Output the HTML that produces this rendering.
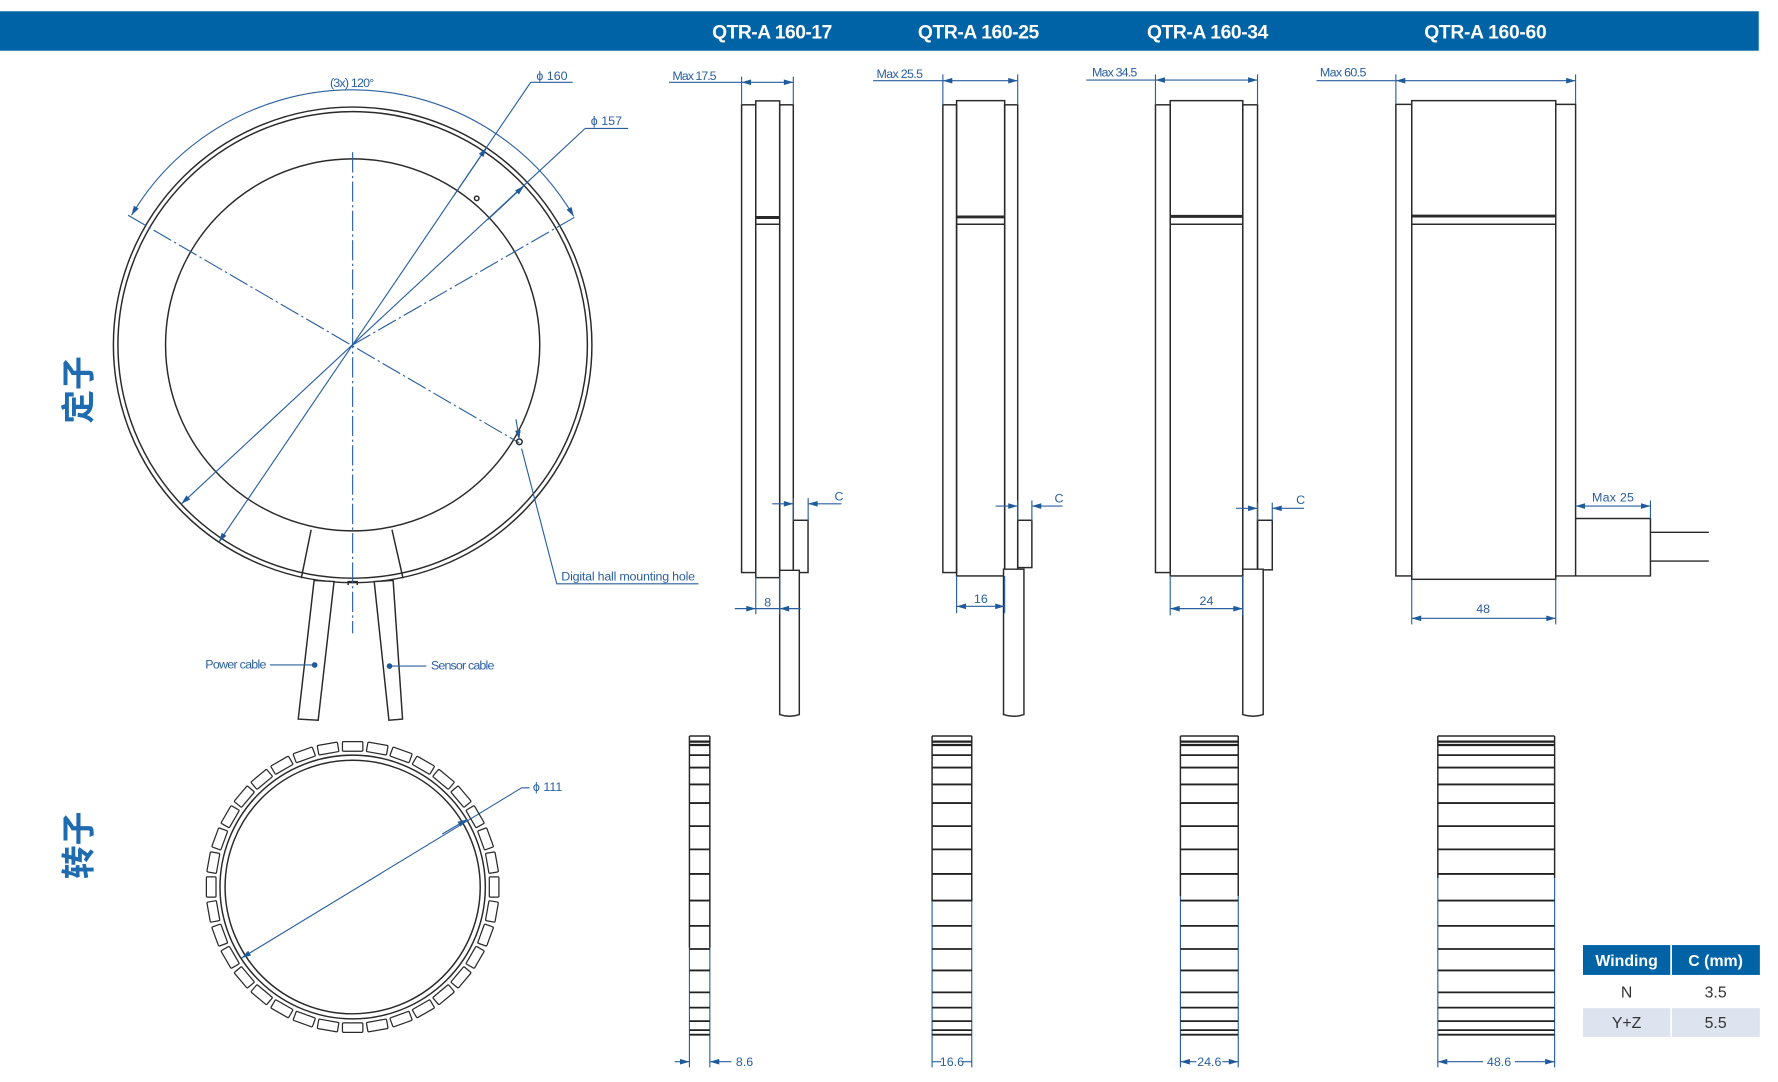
<!DOCTYPE html>
<html><head><meta charset="utf-8"><style>
html,body{margin:0;padding:0;background:#fff;}
svg{display:block;}
.k{fill:none;stroke:#2a2a2a;stroke-width:1.3}
.b{fill:none;stroke:#2a5f9f;stroke-width:1}
.d{fill:none;stroke:#2a5f9f;stroke-width:1;stroke-dasharray:18 3 2 3}
.t{font-family:"Liberation Sans",sans-serif;font-size:11px;fill:#2a5f9f}
.h{font-family:"Liberation Sans",sans-serif;font-weight:bold;font-size:17px;fill:#fff}
</style></head><body>
<svg width="1778" height="1082" viewBox="0 0 1568 960" preserveAspectRatio="none" xmlns="http://www.w3.org/2000/svg">
<defs>
<marker id="a" viewBox="0 0 10 6" refX="10" refY="3" markerWidth="9" markerHeight="5" orient="auto-start-reverse" markerUnits="userSpaceOnUse"><path d="M0,0L10,3L0,6z" fill="#1f5a9a"/></marker>
</defs>
<rect x="0" y="10" width="1551" height="35" fill="#0063a6"/>
<text class="h" x="681" y="34" text-anchor="middle" textLength="106">QTR-A 160-17</text>
<text class="h" x="863" y="34" text-anchor="middle" textLength="107">QTR-A 160-25</text>
<text class="h" x="1065" y="34" text-anchor="middle" textLength="107">QTR-A 160-34</text>
<text class="h" x="1310" y="34" text-anchor="middle" textLength="108">QTR-A 160-60</text>

<text x="0" y="0" transform="translate(80,376) rotate(-90)" style="font-family:'Liberation Sans','Noto Sans CJK SC',sans-serif;font-size:30px;fill:#1f6bb0;font-weight:bold">定子</text>
<text x="0" y="0" transform="translate(80,780) rotate(-90)" style="font-family:'Liberation Sans','Noto Sans CJK SC',sans-serif;font-size:30px;fill:#1f6bb0;font-weight:bold">转子</text>

<circle class="k" cx="311" cy="306" r="211"/>
<circle class="k" cx="311" cy="306" r="207"/>
<circle class="k" cx="311" cy="306" r="165"/>
<path class="k" d="M274.4,470 L265.7,513 M345.7,470 L355.4,513"/>
<path fill="#fff" stroke="#2a2a2a" stroke-width="1.3" d="M277,515 L294.6,516 L280.6,639 L263,638 Z M330,516 L346.7,515 L355,638 L343,639 Z"/>
<path class="k" d="M307,519 v-3 h8 v3"/>
<line class="d" x1="311" y1="135" x2="311" y2="562"/>
<line class="d" x1="113" y1="191" x2="458" y2="393"/>
<line class="d" x1="311" y1="306" x2="508" y2="192"/>
<path class="b" d="M116,191 A226,226 0 0 1 506,192" marker-start="url(#a)" marker-end="url(#a)"/>
<text class="t" x="291" y="77" textLength="39">(3x) 120°</text>
<line class="b" x1="193" y1="481" x2="468" y2="73" marker-start="url(#a)"/>
<line class="b" x1="400" y1="174" x2="429" y2="131" marker-end="url(#a)"/>
<line class="b" x1="468" y1="73" x2="505" y2="73"/>
<text class="t" x="473" y="71">ϕ 160</text>
<line class="b" x1="160" y1="447" x2="516" y2="114" marker-start="url(#a)"/>
<line class="b" x1="430" y1="195" x2="462" y2="165" marker-end="url(#a)"/>
<line class="b" x1="516" y1="114" x2="554" y2="114"/>
<text class="t" x="521" y="111">ϕ 157</text>
<circle class="k" cx="420.4" cy="176" r="2" stroke-width="1"/>
<circle class="k" cx="458" cy="392" r="2.5" stroke-width="1"/>
<line class="b" x1="455" y1="372" x2="458" y2="390" marker-end="url(#a)"/>
<polyline class="b" points="460,398 491,518 616,518"/>
<text class="t" x="495" y="515" textLength="118">Digital hall mounting hole</text>
<line class="b" x1="238" y1="590" x2="277" y2="590"/>
<circle cx="277.5" cy="590" r="2.5" fill="#1f5a9a"/>
<text class="t" x="181" y="593" textLength="54">Power cable</text>
<line class="b" x1="343" y1="591" x2="376" y2="591"/>
<circle cx="343.5" cy="591" r="2.5" fill="#1f5a9a"/>
<text class="t" x="380" y="594" textLength="56">Sensor cable</text>

<g class="k">
<rect x="654" y="93" width="12.5" height="415"/>
<rect x="666.5" y="89.5" width="21.1" height="423"/>
<rect x="687.6" y="93" width="12" height="415"/>
<rect x="699.6" y="461.6" width="13" height="46.4"/>
<path d="M687.6,506 h17.3 v128 q-8.6,3 -17.3,0 z" fill="#fff"/>
<line x1="666.5" y1="193" x2="687.6" y2="193" stroke-width="2.6"/>
<line x1="666.5" y1="199" x2="687.6" y2="199"/>
<rect x="831.5" y="93" width="12.1" height="415"/>
<rect x="843.6" y="89.3" width="42.4" height="421.7"/>
<rect x="886" y="93" width="11.5" height="415"/>
<rect x="897.5" y="461.6" width="12.5" height="42"/>
<path d="M885,505 h18 v129 q-9,3 -18,0 z" fill="#fff"/>
<line x1="843.6" y1="192.5" x2="886" y2="192.5" stroke-width="2.6"/>
<line x1="843.6" y1="199" x2="886" y2="199"/>
<rect x="1019" y="93" width="13" height="415"/>
<rect x="1032" y="89.3" width="64" height="421.7"/>
<rect x="1096" y="93" width="13" height="415"/>
<rect x="1109" y="461.6" width="13" height="44"/>
<path d="M1096,505 h18 v129 q-9,3 -18,0 z" fill="#fff"/>
<line x1="1032" y1="192" x2="1096" y2="192" stroke-width="2.6"/>
<line x1="1032" y1="199" x2="1096" y2="199"/>
<rect x="1231" y="92.6" width="14" height="418.4"/>
<rect x="1245" y="89.3" width="127" height="424.7"/>
<path d="M1372,92.6 h17.5 v418.4 h-17.5 M1389.5,511 h66 v-51 h-66"/>
<path d="M1455.5,472.3 h51.5 M1455.5,497.8 h51.5"/>
<line x1="1245" y1="191.7" x2="1372" y2="191.7" stroke-width="2.6"/>
<line x1="1245" y1="199" x2="1372" y2="199"/>
</g>
<g class="b">
<line x1="590" y1="73" x2="654" y2="73"/><line x1="654" y1="73" x2="699.6" y2="73" marker-start="url(#a)" marker-end="url(#a)"/>
<path d="M654,68 V93 M699.6,68 V93"/>
<line x1="681" y1="447" x2="699.6" y2="447" marker-end="url(#a)"/><line x1="742" y1="447" x2="712.7" y2="447" marker-end="url(#a)"/>
<path d="M699.6,442 V462 M712.7,442 V462"/>
<line x1="648" y1="540" x2="666.5" y2="540" marker-end="url(#a)"/><line x1="706" y1="540" x2="687.6" y2="540" marker-end="url(#a)"/><line x1="666.5" y1="540" x2="687.6" y2="540"/>
<path d="M666.5,512 V545 M687.6,512 V545"/>
<line x1="770" y1="71.6" x2="831.5" y2="71.6"/><line x1="831.5" y1="71.6" x2="897.5" y2="71.6" marker-start="url(#a)" marker-end="url(#a)"/>
<path d="M831.5,66 V93 M897.5,66 V93"/>
<line x1="878" y1="449" x2="897.5" y2="449" marker-end="url(#a)"/><line x1="937" y1="449" x2="910" y2="449" marker-end="url(#a)"/>
<path d="M897.5,444 V462 M910,444 V462"/>
<line x1="843.6" y1="538" x2="886" y2="538" marker-start="url(#a)" marker-end="url(#a)"/>
<path d="M843.6,511 V544 M886,511 V544"/>
<line x1="958" y1="71" x2="1019" y2="71"/><line x1="1019" y1="71" x2="1109" y2="71" marker-start="url(#a)" marker-end="url(#a)"/>
<path d="M1019,66 V93 M1109,66 V93"/>
<line x1="1090" y1="451" x2="1109" y2="451" marker-end="url(#a)"/><line x1="1150" y1="451" x2="1122" y2="451" marker-end="url(#a)"/>
<path d="M1109,446 V462 M1122,446 V462"/>
<line x1="1032" y1="540" x2="1096" y2="540" marker-start="url(#a)" marker-end="url(#a)"/>
<path d="M1032,511 V546 M1096,511 V546"/>
<line x1="1161" y1="71.6" x2="1231" y2="71.6"/><line x1="1231" y1="71.6" x2="1389.5" y2="71.6" marker-start="url(#a)" marker-end="url(#a)"/>
<path d="M1231,66 V92 M1389.5,66 V92"/>
<line x1="1389.5" y1="449" x2="1455.5" y2="449" marker-start="url(#a)" marker-end="url(#a)"/>
<path d="M1455.5,444 V460"/>
<line x1="1245" y1="548.6" x2="1372" y2="548.6" marker-start="url(#a)" marker-end="url(#a)"/>
<path d="M1245,514 V554 M1372,514 V554"/>
</g>
<text class="t" x="593" y="71" textLength="39">Max 17.5</text>
<text class="t" x="736" y="444">C</text>
<text class="t" x="677" y="538" text-anchor="middle">8</text>
<text class="t" x="773" y="69" textLength="41">Max 25.5</text>
<text class="t" x="930" y="446">C</text>
<text class="t" x="865" y="535" text-anchor="middle">16</text>
<text class="t" x="963" y="68" textLength="40">Max 34.5</text>
<text class="t" x="1143" y="447">C</text>
<text class="t" x="1064" y="537" text-anchor="middle">24</text>
<text class="t" x="1164" y="68" textLength="41">Max 60.5</text>
<text class="t" x="1404" y="445" textLength="37">Max 25</text>
<text class="t" x="1308" y="544" text-anchor="middle">48</text>

<circle class="k" cx="311" cy="787" r="117"/>
<circle class="k" cx="311" cy="787" r="112.5"/>
<line class="b" x1="213" y1="850" x2="460" y2="699" marker-start="url(#a)"/>
<line class="b" x1="390" y1="740" x2="412" y2="727" marker-end="url(#a)"/>
<line class="b" x1="460" y1="699" x2="467" y2="699"/>
<text class="t" x="470" y="702">ϕ 111</text>

<rect x="1396" y="838.5" width="77" height="26.5" fill="#0063a6"/>
<rect x="1474.5" y="838.5" width="77.5" height="26.5" fill="#0063a6"/>
<rect x="1396" y="894.5" width="77" height="25.5" fill="#dde3ef"/>
<rect x="1474.5" y="894.5" width="77.5" height="25.5" fill="#dde3ef"/>
<text x="1434.5" y="857" text-anchor="middle" style="font-family:'Liberation Sans',sans-serif;font-weight:bold;font-size:14px;fill:#fff">Winding</text>
<text x="1513" y="857" text-anchor="middle" style="font-family:'Liberation Sans',sans-serif;font-weight:bold;font-size:14px;fill:#fff">C (mm)</text>
<text x="1434.5" y="885" text-anchor="middle" style="font-family:'Liberation Sans',sans-serif;font-size:14px;fill:#333">N</text>
<text x="1513" y="885" text-anchor="middle" style="font-family:'Liberation Sans',sans-serif;font-size:14px;fill:#333">3.5</text>
<text x="1434.5" y="912" text-anchor="middle" style="font-family:'Liberation Sans',sans-serif;font-size:14px;fill:#333">Y+Z</text>
<text x="1513" y="912" text-anchor="middle" style="font-family:'Liberation Sans',sans-serif;font-size:14px;fill:#333">5.5</text>

<g>
<g class="k">
<path d="M608,653 V841 M626,653 V841 M608,653 H626"/>
<path d="M822,653 V800 M857,653 V800 M822,653 H857"/>
<path d="M1041,653 V795 M1092,653 V795 M1041,653 H1092"/>
<path d="M1268,653 V779 M1371,653 V779 M1268,653 H1371"/>
</g>
<g class="b">
<path d="M608,841 V947 M626,841 V947"/>
<path d="M822,800 V947 M857,800 V947"/>
<path d="M1041,795 V947 M1092,795 V947"/>
<path d="M1268,779 V947 M1371,779 V947"/>
<line x1="595" y1="942" x2="608" y2="942" marker-end="url(#a)"/><line x1="645" y1="942" x2="626" y2="942" marker-end="url(#a)"/>
<line x1="822" y1="942" x2="830" y2="942"/><line x1="849" y1="942" x2="857" y2="942"/>
<line x1="1041" y1="942" x2="1055" y2="942" marker-start="url(#a)"/><line x1="1078" y1="942" x2="1092" y2="942" marker-end="url(#a)"/>
<line x1="1268" y1="942" x2="1308" y2="942" marker-start="url(#a)"/><line x1="1336" y1="942" x2="1371" y2="942" marker-end="url(#a)"/>
</g>
<text class="t" x="649" y="946">8.6</text>
<text class="t" x="839.5" y="946" text-anchor="middle" font-size="10">16.6</text>
<text class="t" x="1066.5" y="946" text-anchor="middle">24.6</text>
<text class="t" x="1322" y="946" text-anchor="middle">48.6</text>
</g>
<g stroke="#222">
<path d="M608,658H626M608,661H626M822,658H857M822,661H857M1041,658H1092M1041,661H1092M1268,658H1371M1268,661H1371" stroke-width="2"/>
<path d="M608,670H626M608,681H626M608,696H626M608,712.5H626M608,733H626M608,753.6H626M608,775.4H626M608,799H626M608,821.5H626M608,842H626M608,861H626M608,880.5H626M608,894H626M608,906H626M608,914H626M608,918H626" stroke-width="1.6"/>
<path d="M822,670H857M822,681H857M822,696H857M822,712.5H857M822,733H857M822,753.6H857M822,775.4H857M822,799H857M822,821.5H857M822,842H857M822,861H857M822,880.5H857M822,894H857M822,906H857M822,914H857M822,918H857" stroke-width="1.6"/>
<path d="M1041,670H1092M1041,681H1092M1041,696H1092M1041,712.5H1092M1041,733H1092M1041,753.6H1092M1041,775.4H1092M1041,799H1092M1041,821.5H1092M1041,842H1092M1041,861H1092M1041,880.5H1092M1041,894H1092M1041,906H1092M1041,914H1092M1041,918H1092" stroke-width="1.6"/>
<path d="M1268,670H1371M1268,681H1371M1268,696H1371M1268,712.5H1371M1268,733H1371M1268,753.6H1371M1268,775.4H1371M1268,799H1371M1268,821.5H1371M1268,842H1371M1268,861H1371M1268,880.5H1371M1268,894H1371M1268,906H1371M1268,914H1371M1268,918H1371" stroke-width="1.6"/>
</g>

<g fill="none" stroke="#2a2a2a" stroke-width="1.1">
<rect x="302" y="658" width="18" height="8.5" rx="1" transform="rotate(0 311 787)"/>
<rect x="302" y="658" width="18" height="8.5" rx="1" transform="rotate(10 311 787)"/>
<rect x="302" y="658" width="18" height="8.5" rx="1" transform="rotate(20 311 787)"/>
<rect x="302" y="658" width="18" height="8.5" rx="1" transform="rotate(30 311 787)"/>
<rect x="302" y="658" width="18" height="8.5" rx="1" transform="rotate(40 311 787)"/>
<rect x="302" y="658" width="18" height="8.5" rx="1" transform="rotate(50 311 787)"/>
<rect x="302" y="658" width="18" height="8.5" rx="1" transform="rotate(60 311 787)"/>
<rect x="302" y="658" width="18" height="8.5" rx="1" transform="rotate(70 311 787)"/>
<rect x="302" y="658" width="18" height="8.5" rx="1" transform="rotate(80 311 787)"/>
<rect x="302" y="658" width="18" height="8.5" rx="1" transform="rotate(90 311 787)"/>
<rect x="302" y="658" width="18" height="8.5" rx="1" transform="rotate(100 311 787)"/>
<rect x="302" y="658" width="18" height="8.5" rx="1" transform="rotate(110 311 787)"/>
<rect x="302" y="658" width="18" height="8.5" rx="1" transform="rotate(120 311 787)"/>
<rect x="302" y="658" width="18" height="8.5" rx="1" transform="rotate(130 311 787)"/>
<rect x="302" y="658" width="18" height="8.5" rx="1" transform="rotate(140 311 787)"/>
<rect x="302" y="658" width="18" height="8.5" rx="1" transform="rotate(150 311 787)"/>
<rect x="302" y="658" width="18" height="8.5" rx="1" transform="rotate(160 311 787)"/>
<rect x="302" y="658" width="18" height="8.5" rx="1" transform="rotate(170 311 787)"/>
<rect x="302" y="658" width="18" height="8.5" rx="1" transform="rotate(180 311 787)"/>
<rect x="302" y="658" width="18" height="8.5" rx="1" transform="rotate(190 311 787)"/>
<rect x="302" y="658" width="18" height="8.5" rx="1" transform="rotate(200 311 787)"/>
<rect x="302" y="658" width="18" height="8.5" rx="1" transform="rotate(210 311 787)"/>
<rect x="302" y="658" width="18" height="8.5" rx="1" transform="rotate(220 311 787)"/>
<rect x="302" y="658" width="18" height="8.5" rx="1" transform="rotate(230 311 787)"/>
<rect x="302" y="658" width="18" height="8.5" rx="1" transform="rotate(240 311 787)"/>
<rect x="302" y="658" width="18" height="8.5" rx="1" transform="rotate(250 311 787)"/>
<rect x="302" y="658" width="18" height="8.5" rx="1" transform="rotate(260 311 787)"/>
<rect x="302" y="658" width="18" height="8.5" rx="1" transform="rotate(270 311 787)"/>
<rect x="302" y="658" width="18" height="8.5" rx="1" transform="rotate(280 311 787)"/>
<rect x="302" y="658" width="18" height="8.5" rx="1" transform="rotate(290 311 787)"/>
<rect x="302" y="658" width="18" height="8.5" rx="1" transform="rotate(300 311 787)"/>
<rect x="302" y="658" width="18" height="8.5" rx="1" transform="rotate(310 311 787)"/>
<rect x="302" y="658" width="18" height="8.5" rx="1" transform="rotate(320 311 787)"/>
<rect x="302" y="658" width="18" height="8.5" rx="1" transform="rotate(330 311 787)"/>
<rect x="302" y="658" width="18" height="8.5" rx="1" transform="rotate(340 311 787)"/>
<rect x="302" y="658" width="18" height="8.5" rx="1" transform="rotate(350 311 787)"/>
</g>
</svg>
</body></html>
